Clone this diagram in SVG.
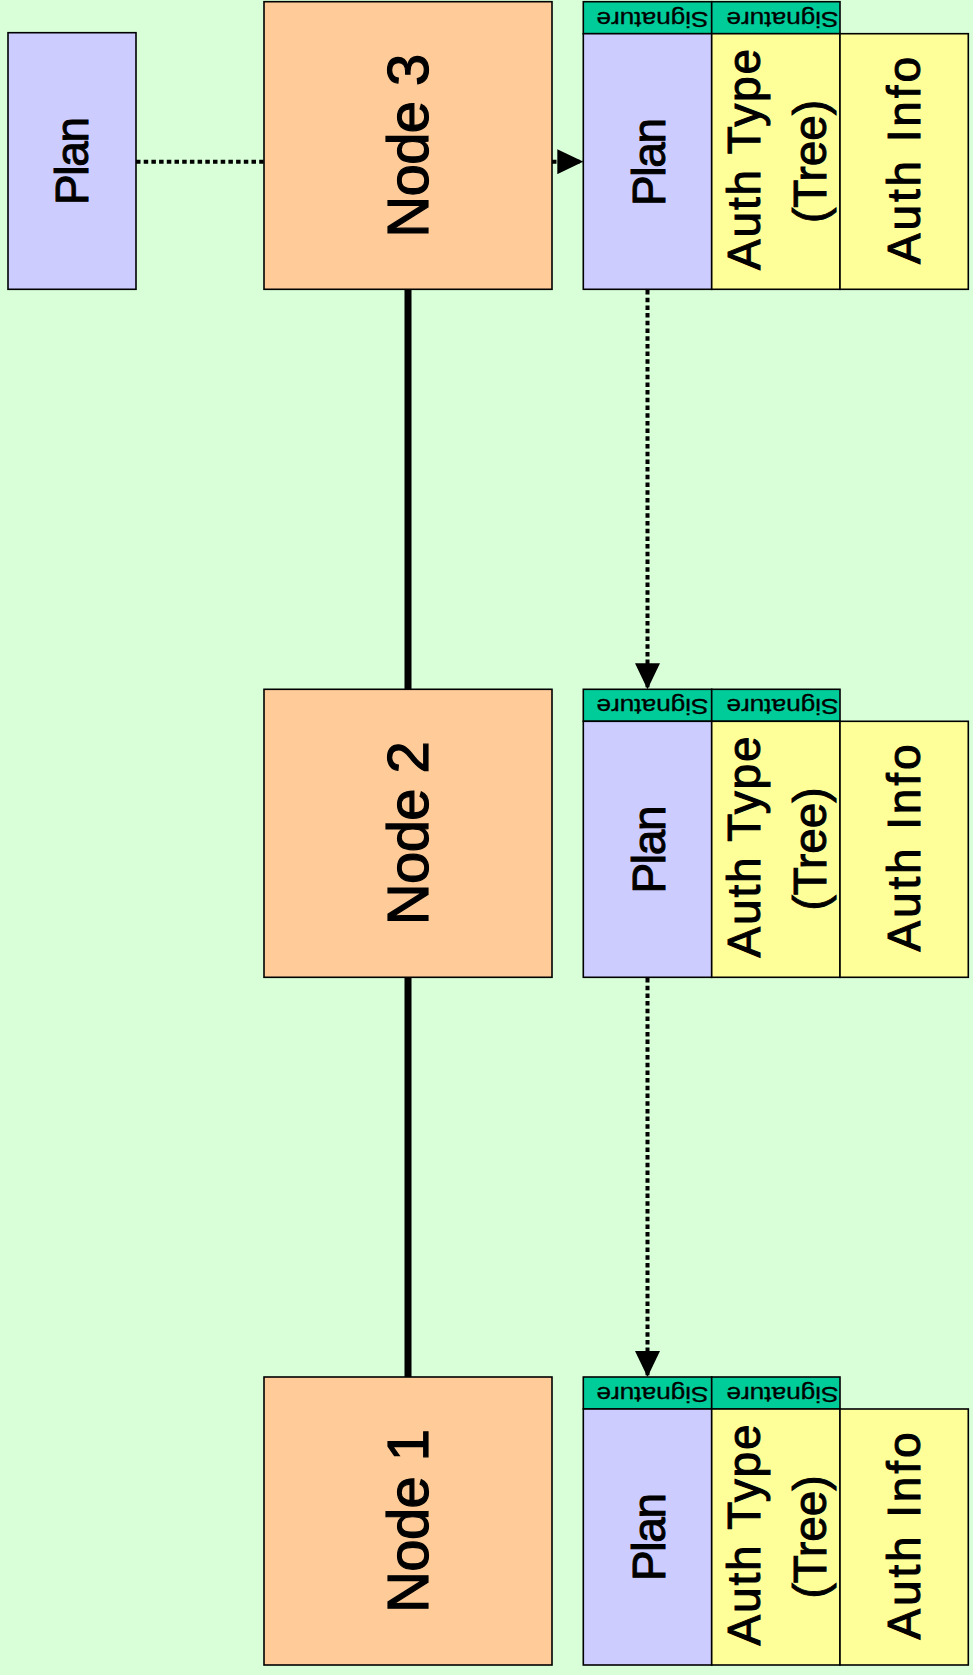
<svg xmlns="http://www.w3.org/2000/svg" width="973" height="1675" viewBox="0 0 973 1675">
  <style>
    .box { stroke: #000; stroke-width: 1.6; }
    .node { fill: #ffcc99; }
    .plan { fill: #ccccff; }
    .auth { fill: #ffff99; }
    .sig { fill: #00cc99; }
    text { font-family: "Liberation Sans", Arial, sans-serif; fill: #000; }
    .lbl-node { font-size: 58px; text-anchor: middle; stroke: #000; stroke-width: 1.2; }
    .lbl { font-size: 46px; text-anchor: middle; stroke: #000; stroke-width: 1; }
    .lbl-sig { font-size: 22px; text-anchor: start; stroke: #000; stroke-width: 0.3; }
    .link { stroke: #000; stroke-width: 7; fill: none; }
    .ref { stroke: #000; stroke-width: 4; stroke-dasharray: 4.5 3.2; fill: none; }
  </style>
  <defs>
    <marker id="arrow" viewBox="0 0 26 25" refX="26" refY="12.5" markerWidth="26" markerHeight="25" markerUnits="userSpaceOnUse" orient="auto">
      <path d="M0,0 L26,12.5 L0,25 Z" fill="#000"/>
    </marker>
  </defs>

  <rect width="973" height="1675" fill="#d9ffd9"/>

  <!-- connectors -->
  <g id="connectors">
    <line class="link" x1="408" y1="289.7" x2="408" y2="689.3"/>
    <line class="link" x1="408" y1="977.3" x2="408" y2="1377"/>
    <line class="ref" x1="136" y1="161.7" x2="264" y2="161.7"/>
    <line class="ref" x1="552" y1="161.7" x2="583.3" y2="161.7" marker-end="url(#arrow)"/>
    <line class="ref" x1="647.5" y1="290" x2="647.5" y2="689.3" marker-end="url(#arrow)"/>
    <line class="ref" x1="647.5" y1="978" x2="647.5" y2="1377" marker-end="url(#arrow)"/>
  </g>

  <!-- standalone plan -->
  <g id="plan-root">
    <rect class="box plan" x="8" y="32.7" width="128" height="256.6"/>
    <text class="lbl" transform="translate(88,161) rotate(-90)" textLength="88">Plan</text>
  </g>

  <!-- node 3 -->
  <g id="node3">
    <rect class="box node" x="264" y="1.7" width="288" height="287.6"/>
    <text class="lbl-node" transform="translate(428,145.7) rotate(-90)" textLength="184">Node 3</text>
  </g>
  <g id="record3">
    <rect class="box sig" x="583.3" y="1.7" width="128.4" height="32"/>
    <rect class="box sig" x="711.7" y="1.7" width="128.3" height="32"/>
    <rect class="box plan" x="583.3" y="33.7" width="128.4" height="255.6"/>
    <rect class="box auth" x="711.7" y="33.7" width="128.3" height="255.6"/>
    <rect class="box auth" x="840" y="33.7" width="128.3" height="255.6"/>
    <text class="lbl-sig" transform="translate(708.5,11.7) rotate(180)" textLength="112" lengthAdjust="spacingAndGlyphs">Signature</text>
    <text class="lbl-sig" transform="translate(838.5,11.7) rotate(180)" textLength="112" lengthAdjust="spacingAndGlyphs">Signature</text>
    <text class="lbl" transform="translate(665,162) rotate(-90)" textLength="88">Plan</text>
    <text class="lbl" transform="translate(760,159.5) rotate(-90)" textLength="221">Auth Type</text>
    <text class="lbl" transform="translate(826,161.5) rotate(-90)" textLength="123">(Tree)</text>
    <text class="lbl" transform="translate(920,160.5) rotate(-90)" textLength="207">Auth Info</text>
  </g>

  <!-- node 2 -->
  <g id="node2">
    <rect class="box node" x="264" y="689.3" width="288" height="288"/>
    <text class="lbl-node" transform="translate(428,833.3) rotate(-90)" textLength="184">Node 2</text>
  </g>
  <g id="record2">
    <rect class="box sig" x="583.3" y="689.3" width="128.4" height="32"/>
    <rect class="box sig" x="711.7" y="689.3" width="128.3" height="32"/>
    <rect class="box plan" x="583.3" y="721.3" width="128.4" height="256"/>
    <rect class="box auth" x="711.7" y="721.3" width="128.3" height="256"/>
    <rect class="box auth" x="840" y="721.3" width="128.3" height="256"/>
    <text class="lbl-sig" transform="translate(708.5,699.3) rotate(180)" textLength="112" lengthAdjust="spacingAndGlyphs">Signature</text>
    <text class="lbl-sig" transform="translate(838.5,699.3) rotate(180)" textLength="112" lengthAdjust="spacingAndGlyphs">Signature</text>
    <text class="lbl" transform="translate(665,849.5) rotate(-90)" textLength="88">Plan</text>
    <text class="lbl" transform="translate(760,847) rotate(-90)" textLength="221">Auth Type</text>
    <text class="lbl" transform="translate(826,849) rotate(-90)" textLength="123">(Tree)</text>
    <text class="lbl" transform="translate(920,848) rotate(-90)" textLength="207">Auth Info</text>
  </g>

  <!-- node 1 -->
  <g id="node1">
    <rect class="box node" x="264" y="1377" width="288" height="288"/>
    <text class="lbl-node" transform="translate(428,1521) rotate(-90)" textLength="184">Node 1</text>
  </g>
  <g id="record1">
    <rect class="box sig" x="583.3" y="1377" width="128.4" height="32"/>
    <rect class="box sig" x="711.7" y="1377" width="128.3" height="32"/>
    <rect class="box plan" x="583.3" y="1409" width="128.4" height="256"/>
    <rect class="box auth" x="711.7" y="1409" width="128.3" height="256"/>
    <rect class="box auth" x="840" y="1409" width="128.3" height="256"/>
    <text class="lbl-sig" transform="translate(708.5,1387) rotate(180)" textLength="112" lengthAdjust="spacingAndGlyphs">Signature</text>
    <text class="lbl-sig" transform="translate(838.5,1387) rotate(180)" textLength="112" lengthAdjust="spacingAndGlyphs">Signature</text>
    <text class="lbl" transform="translate(665,1537) rotate(-90)" textLength="88">Plan</text>
    <text class="lbl" transform="translate(760,1535) rotate(-90)" textLength="221">Auth Type</text>
    <text class="lbl" transform="translate(826,1537) rotate(-90)" textLength="123">(Tree)</text>
    <text class="lbl" transform="translate(920,1536) rotate(-90)" textLength="207">Auth Info</text>
  </g>
</svg>
